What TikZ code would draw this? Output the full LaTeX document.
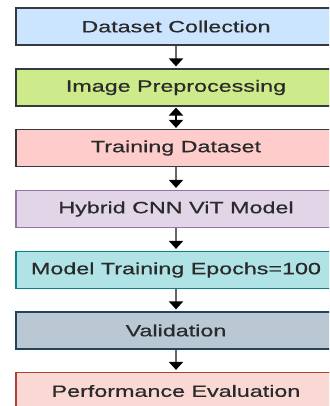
\documentclass[tikz,border=0pt]{standalone}
\usepackage{fontspec}
\setmainfont{Liberation Sans}[FakeStretch=1.43,FakeBold=0.6]
\usetikzlibrary{arrows.meta}
\definecolor{fillA}{HTML}{CCE5FF}
\definecolor{fillB}{HTML}{CDEB8B}
\definecolor{fillC}{HTML}{FFCCCC}
\definecolor{fillD}{HTML}{E1D5E7}
\definecolor{fillE}{HTML}{B0E3E6}
\definecolor{fillF}{HTML}{BAC8D3}
\definecolor{fillG}{HTML}{FAD9D5}
\definecolor{lineA}{HTML}{36393D}
\definecolor{lineD}{HTML}{9673A6}
\definecolor{lineE}{HTML}{0E8088}
\definecolor{lineF}{HTML}{23445D}
\definecolor{lineG}{HTML}{AE4132}
\definecolor{txt}{HTML}{2A2A2A}
\definecolor{shaft}{HTML}{666666}
\tikzset{
  stage/.style={draw=#1, rectangle, line width=1.2pt, minimum width=320pt,
    minimum height=37pt, inner sep=0pt, text=txt,
    font=\fontsize{16.3pt}{18pt}\selectfont},
  flow/.style={draw=shaft, line width=2.6pt, shorten >=2pt,
    -{Triangle[length=8pt,width=14pt,color=black]}},
  flowboth/.style={draw=black, line width=2.6pt, shorten >=1pt, shorten <=1pt,
    {Triangle[length=8pt,width=14pt,color=black]}-{Triangle[length=8pt,width=14pt,color=black]}}
}
\begin{document}
\begin{tikzpicture}[x=1pt,y=-1pt]
\useasboundingbox (0,0) rectangle (329,406);
\clip (0,0) rectangle (329,406);
\node[stage=lineA, fill=fillA] (s1) at (176,26.5) {Dataset Collection};
\node[stage=lineA, fill=fillB] (s2) at (176,87.5) {Image Preprocessing};
\node[stage=lineA, fill=fillC] (s3) at (176,148) {Training Dataset};
\node[stage=lineD, fill=fillD] (s4) at (176,209) {Hybrid CNN ViT Model};
\node[stage=lineE, fill=fillE] (s5) at (176,270) {Model Training Epochs=100};
\node[stage=lineF, fill=fillF] (s6) at (176,330.5) {Validation};
\node[stage=lineG, fill=fillG] (s7) at (176,391) {Performance Evaluation};
\draw[flow] (s1) -- (s2);
\draw[flowboth] (s2) -- (s3);
\draw[flow] (s3) -- (s4);
\draw[flow] (s4) -- (s5);
\draw[flow] (s5) -- (s6);
\draw[flow] (s6) -- (s7);
\end{tikzpicture}
\end{document}
